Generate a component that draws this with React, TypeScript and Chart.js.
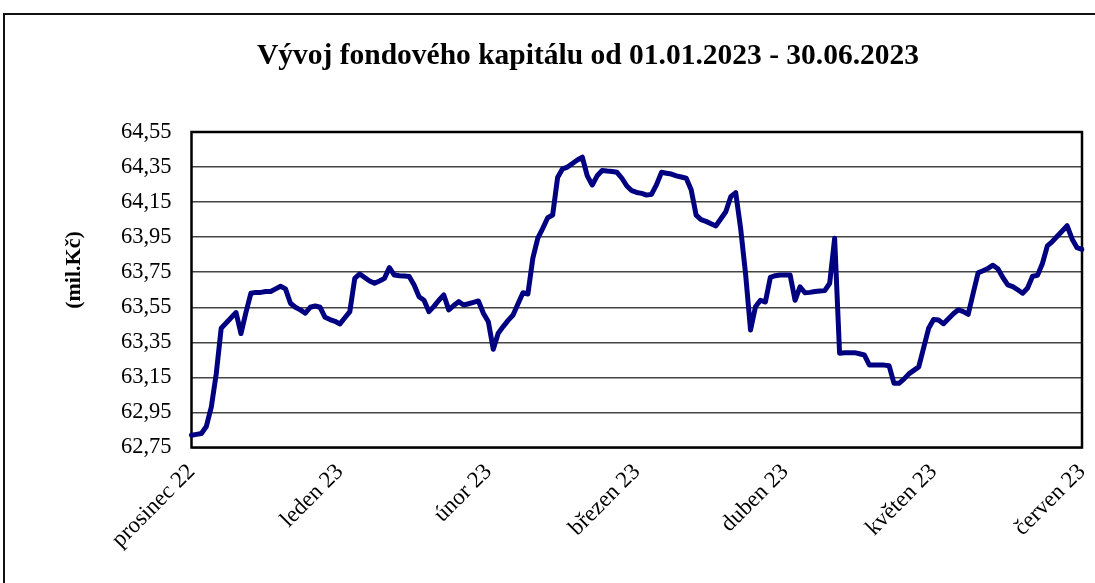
import React, { useEffect, useRef } from 'react';
import { Chart, registerables } from 'chart.js';

Chart.register(...registerables);

const chartTitle = 'Vývoj fondového kapitálu od 01.01.2023 - 30.06.2023';
const yAxisTitle = '(mil.Kč)';
const monthLabels = ['prosinec 22', 'leden 23', 'únor 23', 'březen 23', 'duben 23', 'květen 23', 'červen 23'];
const pointsPerMonth = 30;
const yMin = 62.75;
const yMax = 64.55;
const yStep = 0.2;

const fundCapital = [
  62.82, 62.825, 62.83, 62.87, 62.98, 63.17, 63.43, 63.46, 63.49, 63.52,
  63.40, 63.52, 63.63, 63.635, 63.635, 63.64, 63.64, 63.655, 63.67, 63.655,
  63.573, 63.55, 63.535, 63.516, 63.55, 63.557, 63.55, 63.493, 63.48, 63.47,
  63.455, 63.49, 63.525, 63.715, 63.74, 63.72, 63.70, 63.687, 63.70, 63.715,
  63.776, 63.734, 63.73, 63.728, 63.725, 63.677, 63.61, 63.59, 63.525, 63.555,
  63.59, 63.62, 63.535, 63.56, 63.582, 63.563, 63.57, 63.578, 63.586, 63.516,
  63.468, 63.31, 63.402, 63.44, 63.475, 63.506, 63.57, 63.633, 63.626, 63.83,
  63.944, 64.0, 64.061, 64.076, 64.29, 64.34, 64.35, 64.37, 64.39, 64.406,
  64.30, 64.248, 64.30, 64.33, 64.327, 64.325, 64.32, 64.286, 64.242, 64.215,
  64.205, 64.20, 64.19, 64.195, 64.25, 64.32, 64.315, 64.31, 64.30, 64.293,
  64.286, 64.22, 64.076, 64.05, 64.04, 64.027, 64.014, 64.055, 64.095, 64.181,
  64.204, 64.0, 63.74, 63.42, 63.553, 63.59, 63.58, 63.72, 63.73, 63.734,
  63.734, 63.734, 63.59, 63.667, 63.633, 63.635, 63.64, 63.643, 63.645, 63.687,
  63.944, 63.288, 63.29, 63.29, 63.291, 63.285, 63.278, 63.221, 63.22, 63.22,
  63.22, 63.217, 63.116, 63.116, 63.14, 63.17, 63.19, 63.21, 63.32, 63.43,
  63.48, 63.477, 63.456, 63.485, 63.513, 63.536, 63.525, 63.51, 63.63, 63.746,
  63.758, 63.772, 63.79, 63.77, 63.72, 63.678, 63.668, 63.65, 63.63, 63.66,
  63.727, 63.732, 63.80, 63.90, 63.925, 63.955, 63.985, 64.015, 63.94, 63.89,
  63.88,
];

const FONT = '"Liberation Serif", "Times New Roman", serif';

export default function App() {
  const ref = useRef<HTMLCanvasElement>(null);

  useEffect(() => {
    if (!ref.current) return;
    const labels = fundCapital.map((_, i) => String(i));

    const framePlugin = {
      id: 'plotFrame',
      beforeDatasetsDraw(chart: any) {
        const { ctx, chartArea } = chart;
        const { left, top, right, bottom } = chartArea;
        ctx.save();
        ctx.strokeStyle = '#000';
        ctx.lineWidth = 2.5;
        ctx.strokeRect(left, top, right - left, bottom - top);
        ctx.restore();
      },
    };

    const textPlugin = {
      id: 'texts',
      afterDraw(chart: any) {
        const { ctx } = chart;
        ctx.save();
        ctx.fillStyle = '#000';
        ctx.font = `bold 29.5px ${FONT}`;
        ctx.textAlign = 'center';
        ctx.textBaseline = 'alphabetic';
        ctx.fillText(chartTitle, 588, 64);
        ctx.translate(80, 270);
        ctx.rotate(-Math.PI / 2);
        ctx.font = `bold 22px ${FONT}`;
        ctx.fillText(yAxisTitle, 0, 0);
        ctx.restore();
      },
    };

    const chart = new Chart(ref.current, {
      type: 'line',
      data: {
        labels,
        datasets: [
          {
            data: fundCapital,
            borderColor: '#000080',
            borderWidth: 5,
            pointRadius: 0,
            tension: 0,
            fill: false,
            borderJoinStyle: 'round',
            borderCapStyle: 'round',
          },
        ],
      },
      options: {
        animation: false,
        responsive: true,
        maintainAspectRatio: false,
        layout: { padding: { top: 132, right: 13, bottom: 0, left: 0 } },
        plugins: {
          legend: { display: false },
          title: { display: false },
          tooltip: { enabled: false },
        },
        scales: {
          x: {
            grid: { display: false, drawTicks: false },
            border: { display: false },
            ticks: {
              autoSkip: false,
              minRotation: 45,
              maxRotation: 45,
              padding: 11,
              color: '#000',
              font: { family: FONT, size: 23 },
              callback: (_v: any, i: number) =>
                i % pointsPerMonth === 0 ? monthLabels[i / pointsPerMonth] : '',
            },
            afterFit: (s: any) => {
              s.height = 135.5;
              s.paddingRight = 0;
              s.paddingLeft = 0;
            },
          },
          y: {
            min: yMin,
            max: yMax,
            grid: { color: '#444', lineWidth: 1.5, drawTicks: false },
            border: { display: false },
            ticks: {
              stepSize: yStep,
              padding: 20,
              color: '#000',
              font: { family: FONT, size: 22.5 },
              callback: (v: any) => Number(v).toFixed(2).replace('.', ','),
            },
            afterFit: (s: any) => {
              s.width = 191.5;
            },
          },
        },
      },
      plugins: [framePlugin, textPlugin],
    } as any);

    return () => chart.destroy();
  }, []);

  return (
    <div
      style={{
        position: 'fixed',
        left: 0,
        top: 0,
        width: 1095,
        height: 583,
        overflow: 'hidden',
        background: '#fff',
      }}
    >
      <div
        style={{
          position: 'absolute',
          left: 3,
          top: 13,
          width: 1200,
          height: 700,
          border: '2px solid #111',
          boxSizing: 'border-box',
        }}
      />
      <div style={{ position: 'absolute', left: 0, top: 0, width: 1095, height: 583 }}>
        <canvas ref={ref} />
      </div>
    </div>
  );
}
